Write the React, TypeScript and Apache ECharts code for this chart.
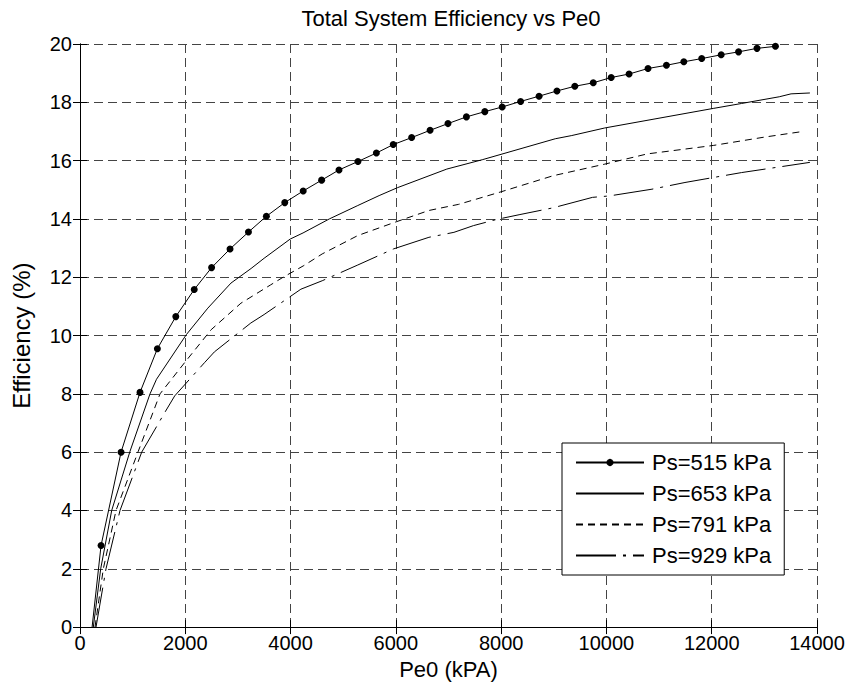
import React, { useEffect, useRef } from "react";
import * as echarts from "echarts";

const xTicks = [0, 2000, 4000, 6000, 8000, 10000, 12000, 14000];
const yTicks = [0, 2, 4, 6, 8, 10, 12, 14, 16, 18, 20];

const seriesNames = ["Ps=515 kPa", "Ps=653 kPa", "Ps=791 kPa", "Ps=929 kPa"];

const ps515: [number, number][] = [
  [400, 2.8], [780, 6.0], [1140, 8.05], [1470, 9.55], [1820, 10.65], [2170, 11.58],
  [2500, 12.33], [2850, 12.97], [3200, 13.55], [3540, 14.09], [3890, 14.56], [4240, 14.96],
  [4590, 15.33], [4920, 15.68], [5280, 15.97], [5630, 16.26], [5950, 16.55], [6300, 16.79],
  [6650, 17.04], [6990, 17.27], [7340, 17.5], [7690, 17.68], [8020, 17.84], [8370, 18.03],
  [8720, 18.21], [9060, 18.39], [9400, 18.55], [9750, 18.67], [10090, 18.85], [10430, 18.97],
  [10790, 19.16], [11140, 19.27], [11470, 19.39], [11810, 19.5], [12180, 19.63], [12510, 19.73],
  [12860, 19.85], [13210, 19.92],
];
const ps515Start: [number, number] = [230, 0];

const ps653: [number, number][] = [
  [253, 0], [393, 2], [602, 4], [950, 6.03], [1330, 8], [1453, 8.5], [2019, 10.03],
  [2428, 10.94], [2868, 11.8], [3250, 12.3], [3497, 12.65], [3993, 13.31], [4237, 13.52],
  [4736, 14.0], [5277, 14.46], [5682, 14.8], [6028, 15.07], [6968, 15.71], [7640, 16.03],
  [9028, 16.75], [9342, 16.86], [9969, 17.12], [12029, 17.79], [12567, 17.96],
  [13283, 18.19], [13507, 18.29], [13865, 18.32],
];

const ps791: [number, number][] = [
  [285, 0], [443, 2], [684, 4], [1107, 6.03], [1520, 8], [1987, 9.07], [2491, 10.2],
  [3057, 11.11], [3623, 11.74], [3858, 12.0], [4252, 12.4], [4601, 12.8], [5277, 13.43],
  [6020, 13.91], [6628, 14.29], [7192, 14.5], [7980, 14.92], [8984, 15.48], [9969, 15.88],
  [10775, 16.23], [12029, 16.52], [13014, 16.81], [13731, 17.0],
];

const ps929: [number, number][] = [
  [304, 0], [494, 2], [760, 4], [1172, 6], [1610, 7.36], [1799, 7.93], [2365, 9.07],
  [2553, 9.44], [3245, 10.43], [3497, 10.72], [4196, 11.59], [4601, 11.88], [5277, 12.42],
  [5953, 12.97], [6628, 13.37], [7103, 13.54], [7473, 13.77], [7909, 13.98], [8357, 14.15],
  [8984, 14.38], [9736, 14.74], [10059, 14.79], [10865, 15.02], [11492, 15.25],
  [12029, 15.42], [12567, 15.59], [13014, 15.71], [13865, 15.94],
];

const FONT = "'Liberation Sans', Arial, Helvetica, sans-serif";

export default function App() {
  const ref = useRef<HTMLDivElement>(null);
  useEffect(() => {
    if (!ref.current) return;
    const chart = echarts.init(ref.current, undefined, { renderer: "svg" });
    const xMin = xTicks[0];
    const xMax = xTicks[xTicks.length - 1];
    const xInt = xTicks[1] - xTicks[0];
    const yMin = yTicks[0];
    const yMax = yTicks[yTicks.length - 1];
    const yInt = yTicks[1] - yTicks[0];
    const axisCommon = {
      axisLine: { show: true, lineStyle: { color: "#000", width: 1 } },
      axisTick: { show: true, inside: true, length: 7, lineStyle: { color: "#000" } },
    };
    const hidden = { opacity: 0 };
    const option: any = {
      animation: false,
      backgroundColor: "#fff",
      textStyle: { fontFamily: FONT },
      title: {
        text: "Total System Efficiency vs Pe0",
        left: 446,
        textAlign: "center",
        top: 2,
        textStyle: { fontFamily: FONT, fontSize: 22, fontWeight: "normal", color: "#000" },
      },
      grid: { left: 80, right: 35, top: 44, bottom: 57, containLabel: false },
      legend: {
        orient: "vertical",
        left: 562,
        top: 443,
        padding: [7, 13, 7, 13],
        itemWidth: 68,
        itemHeight: 9,
        itemGap: 6,
        backgroundColor: "#fff",
        borderColor: "#000",
        borderWidth: 1,
        borderRadius: 0,
        textStyle: { fontFamily: FONT, fontSize: 22, color: "#000", lineHeight: 25, padding: [0, 0, 0, 3] },
        data: [
          { name: seriesNames[0] },
          { name: seriesNames[1], itemStyle: hidden },
          { name: seriesNames[2], itemStyle: hidden },
          { name: seriesNames[3], itemStyle: hidden },
        ],
      },
      xAxis: [
        {
          type: "value",
          min: xMin,
          max: xMax,
          interval: xInt,
          name: "Pe0 (kPA)",
          nameLocation: "middle",
          nameGap: 27,
          nameTextStyle: { fontFamily: FONT, fontSize: 22, color: "#000" },
          ...axisCommon,
          axisLabel: { fontFamily: FONT, fontSize: 20, color: "#000", margin: 6, formatter: (v: number) => String(v) },
          splitLine: { show: true, lineStyle: { color: "#444", type: [9, 5], width: 1 } },
        },
        {
          type: "value",
          position: "top",
          min: xMin,
          max: xMax,
          interval: xInt,
          ...axisCommon,
          axisLabel: { show: false },
          splitLine: { show: false },
        },
      ],
      yAxis: [
        {
          type: "value",
          min: yMin,
          max: yMax,
          interval: yInt,
          name: "Efficiency (%)",
          nameLocation: "middle",
          nameGap: 47,
          nameTextStyle: { fontFamily: FONT, fontSize: 24, color: "#000" },
          ...axisCommon,
          axisLabel: { fontFamily: FONT, fontSize: 20, color: "#000", margin: 8 },
          splitLine: { show: true, lineStyle: { color: "#444", type: [9, 5], width: 1 } },
        },
        {
          type: "value",
          position: "right",
          min: yMin,
          max: yMax,
          interval: yInt,
          ...axisCommon,
          axisLabel: { show: false },
          splitLine: { show: false },
        },
      ],
      series: [
        {
          name: seriesNames[0],
          type: "line",
          data: [{ value: ps515Start, symbol: "none" }, ...ps515],
          symbol: "circle",
          symbolSize: 7,
          itemStyle: { color: "#000" },
          lineStyle: { color: "#000", width: 1 },
          clip: true,
        },
        {
          name: seriesNames[1],
          type: "line",
          data: ps653,
          symbol: "none",
          itemStyle: { color: "#000" },
          lineStyle: { color: "#000", width: 1 },
          clip: true,
        },
        {
          name: seriesNames[2],
          type: "line",
          data: ps791,
          symbol: "none",
          itemStyle: { color: "#000" },
          lineStyle: { color: "#000", width: 1, type: [7, 5] },
          clip: true,
        },
        {
          name: seriesNames[3],
          type: "line",
          data: ps929,
          symbol: "none",
          itemStyle: { color: "#000" },
          lineStyle: { color: "#000", width: 1, type: [40, 7, 3, 7] },
          clip: true,
        },
      ],
    };
    chart.setOption(option);
    return () => chart.dispose();
  }, []);
  return <div ref={ref} style={{ width: 852, height: 685, position: "absolute", left: 0, top: 0 }} />;
}
